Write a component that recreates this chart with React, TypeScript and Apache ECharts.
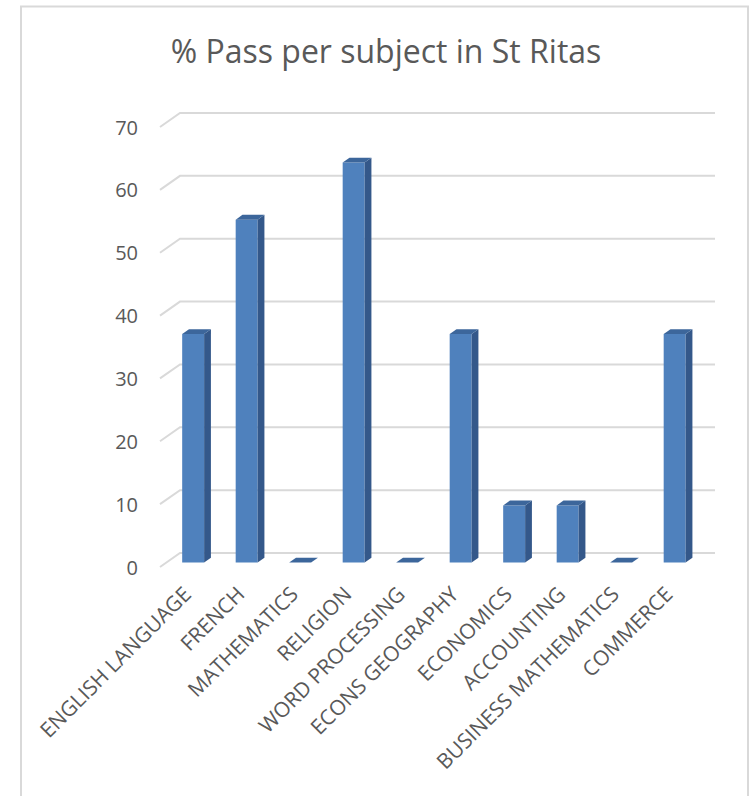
import React, { useEffect, useRef } from "react";
import * as echarts from "echarts";

const categories = [
  "ENGLISH LANGUAGE",
  "FRENCH",
  "MATHEMATICS",
  "RELIGION",
  "WORD PROCESSING",
  "ECONS GEOGRAPHY",
  "ECONOMICS",
  "ACCOUNTING",
  "BUSINESS MATHEMATICS",
  "COMMERCE",
];
const passRates = [36.36, 54.55, 0, 63.64, 0, 36.36, 9.09, 9.09, 0, 36.36];
const gridValues = [0, 10, 20, 30, 40, 50, 60, 70];
const titleText = "% Pass per subject in St Ritas";

const DEPTH_X = 20;
const DEPTH_Y = -14;
const FRONT_COLOR = "#4F81BD";
const SIDE_COLOR = "#34588A";
const TOP_COLOR = "#3C669B";
const TEXT_COLOR = "#595959";
const GRID_COLOR = "#D9D9D9";
const FONT = "'Open Sans', 'Noto Sans', sans-serif";

export default function App() {
  const ref = useRef<HTMLDivElement>(null);

  useEffect(() => {
    document.body.style.margin = "0";
    if (!ref.current) return;
    const chart = echarts.init(ref.current, undefined, { renderer: "svg" });

    const option: any = {
      animation: false,
      backgroundColor: "#ffffff",
      textStyle: { fontFamily: FONT },
      graphic: [
        {
          type: "rect",
          z: 0,
          shape: { x: 21, y: 6.5, width: 727, height: 820 },
          style: { fill: "none", stroke: GRID_COLOR, lineWidth: 2 },
        },
        {
          type: "text",
          z: 10,
          x: 386,
          y: 50,
          style: {
            text: titleText,
            fill: TEXT_COLOR,
            font: `32px ${FONT}`,
            textAlign: "center",
            textVerticalAlign: "middle",
          },
        },
      ],
      grid: { left: 160, right: 55, top: 127, bottom: 229, containLabel: false },
      xAxis: {
        type: "category",
        data: categories,
        axisLine: { show: false },
        axisTick: { show: false },
        splitLine: { show: false },
        axisLabel: {
          interval: 0,
          rotate: 45,
          margin: 23,
          color: TEXT_COLOR,
          fontSize: 21,
          fontFamily: FONT,
        },
      },
      yAxis: {
        type: "value",
        min: 0,
        max: 70,
        interval: 10,
        axisLine: { show: false },
        axisTick: { show: false },
        splitLine: { show: false },
        axisLabel: {
          margin: 22,
          color: TEXT_COLOR,
          fontSize: 20,
          fontFamily: FONT,
        },
      },
      series: [
        {
          type: "custom",
          name: "grid",
          z: 1,
          clip: false,
          silent: true,
          data: gridValues.map((v) => [0, v]),
          renderItem: (params: any, api: any) => {
            const cs = params.coordSys;
            const p = api.coord([0, api.value(1)]);
            const y = p[1];
            return {
              type: "polyline",
              shape: {
                points: [
                  [cs.x, y],
                  [cs.x + DEPTH_X, y + DEPTH_Y],
                  [cs.x + cs.width + DEPTH_X, y + DEPTH_Y],
                ],
              },
              style: { stroke: GRID_COLOR, lineWidth: 2, fill: "none" },
            };
          },
        },
        {
          type: "custom",
          name: "% Pass",
          z: 2,
          clip: false,
          data: passRates.map((v, i) => [i, v]),
          renderItem: (params: any, api: any) => {
            const i = api.value(0);
            const v = api.value(1);
            const base = api.coord([i, 0]);
            const top = api.coord([i, v]);
            const band = api.size([1, 0])[0];
            const t0 = 0.32;
            const t1 = 0.34;
            const w = band * 0.41;
            const cx = base[0] + DEPTH_X * t0;
            const xl = cx - w / 2;
            const xr = cx + w / 2;
            const yb = base[1] + DEPTH_Y * t0;
            const yt = top[1] + DEPTH_Y * t0;
            const dx = DEPTH_X * t1;
            const dy = DEPTH_Y * t1;
            return {
              type: "group",
              children: [
                {
                  type: "rect",
                  shape: { x: xl, y: yt, width: w, height: Math.max(yb - yt, 0) },
                  style: { fill: FRONT_COLOR },
                },
                {
                  type: "polygon",
                  shape: {
                    points: [
                      [xr, yb],
                      [xr + dx, yb + dy],
                      [xr + dx, yt + dy],
                      [xr, yt],
                    ],
                  },
                  style: { fill: SIDE_COLOR },
                },
                {
                  type: "polygon",
                  shape: {
                    points: [
                      [xl, yt],
                      [xl + dx, yt + dy],
                      [xr + dx, yt + dy],
                      [xr, yt],
                    ],
                  },
                  style: { fill: TOP_COLOR },
                },
              ],
            };
          },
        },
      ],
    };

    chart.setOption(option);
    return () => {
      chart.dispose();
    };
  }, []);

  return (
    <div
      ref={ref}
      style={{ width: 750, height: 796, position: "absolute", left: 0, top: 0 }}
    />
  );
}
